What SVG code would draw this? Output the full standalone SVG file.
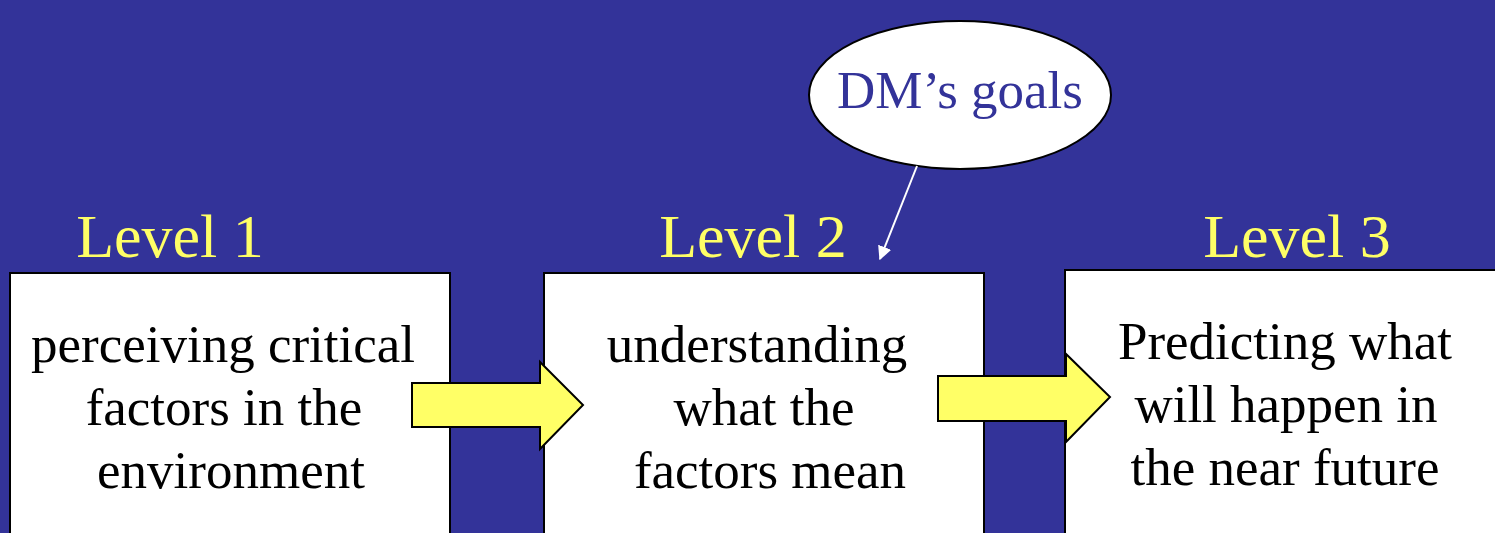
<svg xmlns="http://www.w3.org/2000/svg" width="1495" height="533" viewBox="0 0 1495 533">
  <defs>
    <style>
      .box { fill: #ffffff; stroke: #000000; stroke-width: 2; }
      .flow { fill: #ffff66; stroke: #000000; stroke-width: 2; stroke-linejoin: miter; }
    </style>
    <marker id="whiteHead" viewBox="0 0 10 10" refX="9" refY="5" markerWidth="14" markerHeight="14" markerUnits="userSpaceOnUse" orient="auto">
      <path d="M0,0 L10,5 L0,10 z" fill="#ffffff"/>
    </marker>
  </defs>

  <rect width="1495" height="533" fill="#333399"/>

  <!-- level captions -->
  <g font-family="'Liberation Serif'" font-size="62" fill="#ffff66" text-anchor="middle">
    <text x="170" y="257">Level 1</text>
    <text x="753" y="257">Level 2</text>
    <text x="1297" y="257">Level 3</text>
  </g>

  <g font-family="'Liberation Serif'" font-size="53" fill="#000000" text-anchor="middle">
    <!-- Level 1 -->
    <g id="level1">
      <rect class="box" x="10" y="273" width="440" height="280"/>
      <text x="223" y="362">perceiving critical</text>
      <text x="224" y="425">factors in the</text>
      <text x="231" y="488">environment</text>
    </g>

    <!-- Level 2 -->
    <g id="level2">
      <rect class="box" x="544" y="273" width="440" height="280"/>
      <text x="757" y="362">understanding</text>
      <text x="764" y="425">what the</text>
      <text x="770" y="488">factors mean</text>
    </g>

    <!-- Level 3 -->
    <g id="level3">
      <rect class="box" x="1065" y="270" width="450" height="280"/>
      <text x="1285" y="359">Predicting what</text>
      <text x="1286" y="422">will happen in</text>
      <text x="1285" y="485">the near future</text>
    </g>

    <!-- DM's goals -->
    <g id="goals">
      <ellipse cx="960" cy="95" rx="151" ry="74" fill="#ffffff" stroke="#000000" stroke-width="2"/>
      <text x="960" y="108" fill="#333399">DM’s goals</text>
    </g>
  </g>

  <!-- connectors -->
  <g id="connectors">
    <path class="flow" d="M412,383 L540,383 L540,362 L583,405 L540,449 L540,427 L412,427 Z"/>
    <path class="flow" d="M938,376 L1066,376 L1066,354 L1110,397 L1066,442 L1066,421 L938,421 Z"/>
    <line x1="917" y1="166" x2="880" y2="259" stroke="#ffffff" stroke-width="2" marker-end="url(#whiteHead)"/>
  </g>
</svg>
